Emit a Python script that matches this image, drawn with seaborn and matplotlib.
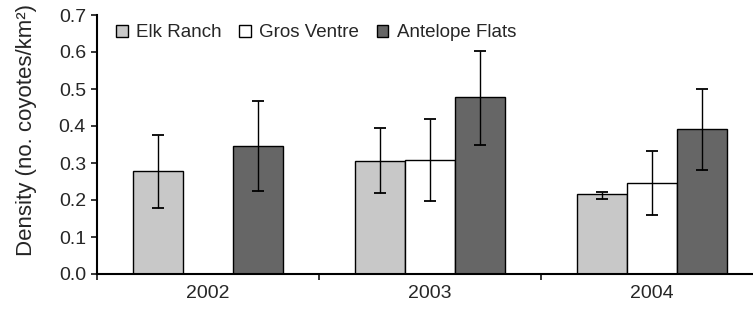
import numpy as np
import pandas as pd
import matplotlib
matplotlib.use("Agg")
import matplotlib.pyplot as plt
from matplotlib.ticker import FixedLocator
import seaborn as sns

# Densité de coyotes par site et par année
years = ["2002", "2003", "2004"]
sites = ["Elk Ranch", "Gros Ventre", "Antelope Flats"]

elk = [0.278, 0.305, 0.215]
gros = [np.nan, 0.309, 0.246]
antelope = [0.345, 0.478, 0.392]

# bornes basses / hautes des barres d'erreur
elk_lo = [0.179, 0.220, 0.204]
elk_hi = [0.376, 0.395, 0.222]
gros_lo = [np.nan, 0.198, 0.160]
gros_hi = [np.nan, 0.419, 0.332]
antelope_lo = [0.223, 0.348, 0.281]
antelope_hi = [0.467, 0.603, 0.501]

yticks = [0.0, 0.1, 0.2, 0.3, 0.4, 0.5, 0.6, 0.7]
colors = ["#c8c8c8", "#ffffff", "#666666"]


def build_table():
    rows = []
    series = [(elk, elk_lo, elk_hi), (gros, gros_lo, gros_hi),
              (antelope, antelope_lo, antelope_hi)]
    for site, (vals, lo, hi) in zip(sites, series):
        for i, year in enumerate(years):
            rows.append({"year": year, "site": site, "density": vals[i],
                         "lo": lo[i], "hi": hi[i]})
    return pd.DataFrame(rows)


df = build_table()

sns.set_style("ticks")
plt.rcParams["font.family"] = ["Liberation Sans", "DejaVu Sans"]

fig = plt.figure(figsize=(7.53, 3.10), dpi=100)
ax = fig.add_axes([97 / 753, 36 / 310, 666 / 753, 259 / 310])

sns.barplot(data=df.dropna(subset=["density"]), x="year", y="density",
            hue="site", order=years, hue_order=sites, palette=colors,
            edgecolor="black", linewidth=1.0, width=0.675, errorbar=None,
            saturation=1, ax=ax)

# barres d'erreur asymétriques, placées sur les barres dessinées par seaborn
for container, site in zip(ax.containers, sites):
    sub = df[df["site"] == site].reset_index(drop=True)
    for p in container.patches:
        h = p.get_height()
        if np.isnan(h) or h == 0:
            continue
        xc = p.get_x() + p.get_width() / 2
        i = int(round(xc))
        lo, hi = sub.loc[i, "lo"], sub.loc[i, "hi"]
        ax.errorbar(xc, h, yerr=[[h - lo], [hi - h]], fmt="none",
                    ecolor="black", elinewidth=1.0, capsize=4, capthick=1.3)

ax.set_xlim(-0.5, 2.5)
ax.set_ylim(0, 0.7)
ax.set_yticks(yticks)
ax.set_yticklabels([f"{t:.1f}" for t in yticks])
ax.xaxis.set_minor_locator(FixedLocator([-0.5, 0.5, 1.5, 2.5]))
ax.tick_params(axis="x", which="major", length=0, labelsize=14, pad=8)
ax.tick_params(axis="x", which="minor", length=4, width=1.3, direction="out")
ax.tick_params(axis="y", length=4, width=1.3, direction="out", labelsize=14, pad=4)

ax.set_xlabel("")
ax.set_ylabel("Density (no. coyotes/km²)", fontsize=16)
ax.yaxis.set_label_coords(-0.09, 0.555)

sns.despine(ax=ax)
for s in ["left", "bottom"]:
    ax.spines[s].set_linewidth(1.5)
    ax.spines[s].set_color("black")

ax.legend(loc="upper left", bbox_to_anchor=(0.015, 1.0), ncol=3, frameon=False,
          fontsize=13.5, handlelength=0.6, handleheight=0.6, handletextpad=0.45,
          columnspacing=0.95, borderaxespad=0.1)

fig.savefig("out.png", dpi=100)
